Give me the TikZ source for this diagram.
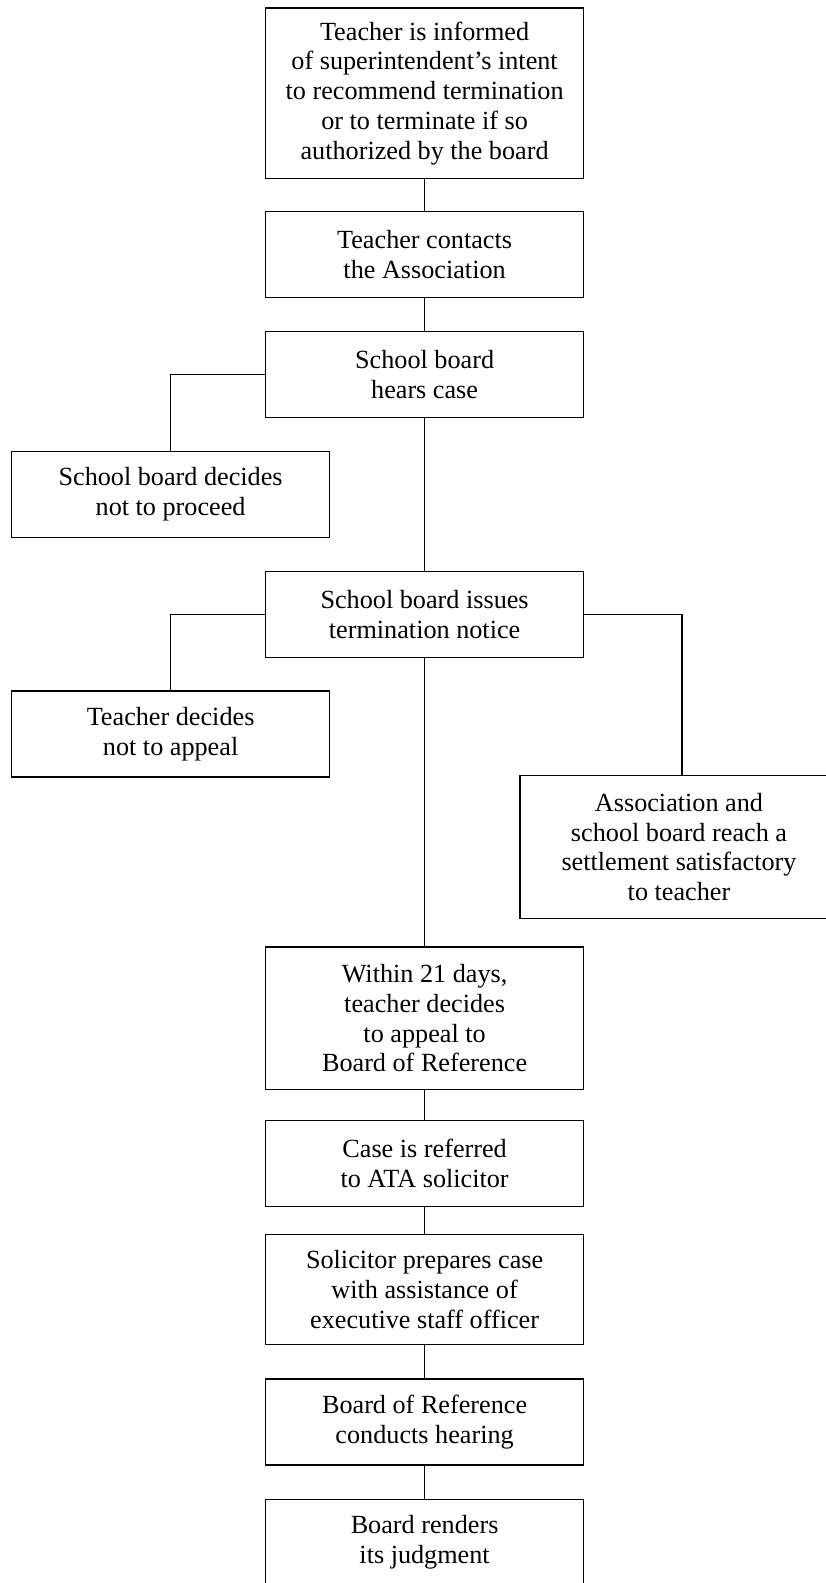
\documentclass[tikz,border=0pt]{standalone}
\usepackage{fontspec}
\setmainfont{Liberation Serif}

\tikzset{
  stepbox/.style={draw, line width=0.6pt, minimum width=159pt, minimum height=43pt,
    align=center, inner sep=0pt, font=\fontsize{13.1}{14.9}\selectfont},
  link/.style={line width=0.6pt},
}

\begin{document}
\begin{tikzpicture}[x=0.5pt,y=-0.5pt]
	\useasboundingbox (0,0) rectangle (825,1583);
	% main column
	\node[stepbox, minimum height=85.3pt] (informed) at (424.6,93.4) {Teacher is informed\\of superintendent's intent\\to recommend termination\\or to terminate if so\\authorized by the board};
	\node[stepbox] (contacts) at (424.6,254.4) {Teacher contacts\\the Association};
	\node[stepbox] (hears) at (424.6,374.2) {School board\\hears case};
	\node[stepbox] (notice) at (424.6,614.4) {School board issues\\termination notice};
	\node[stepbox, minimum height=71.2pt] (within) at (424.6,1018.2) {Within 21 days,\\teacher decides\\to appeal to\\Board of Reference};
	\node[stepbox] (referred) at (424.6,1163.6) {Case is referred\\to ATA solicitor};
	\node[stepbox, minimum height=55pt] (prepares) at (424.6,1289.8) {Solicitor prepares case\\with assistance of\\executive staff officer};
	\node[stepbox] (hearing) at (424.6,1422) {Board of Reference\\conducts hearing};
	\node[stepbox] (judgment) at (424.6,1542.3) {Board renders\\its judgment};
	% side branches
	\node[stepbox] (proceed) at (170.6,494.2) {School board decides\\not to proceed};
	\node[stepbox] (noappeal) at (170.6,734) {Teacher decides\\not to appeal};
	\node[stepbox, minimum height=71.7pt] (settle) at (679,847) {Association and\\school board reach a\\settlement satisfactory\\to teacher};

	\draw[link] (informed) -- (contacts);
	\draw[link] (contacts) -- (hears);
	\draw[link] (hears) -- (notice);
	\draw[link] (notice) -- (within);
	\draw[link] (within) -- (referred);
	\draw[link] (referred) -- (prepares);
	\draw[link] (prepares) -- (hearing);
	\draw[link] (hearing) -- (judgment);
	\draw[link] (hears.west) -| (proceed.north);
	\draw[link] (notice.west) -| (noappeal.north);
	\draw[link] (notice.east) -| ([xshift=1.5pt]settle.north);
\end{tikzpicture}
\end{document}
